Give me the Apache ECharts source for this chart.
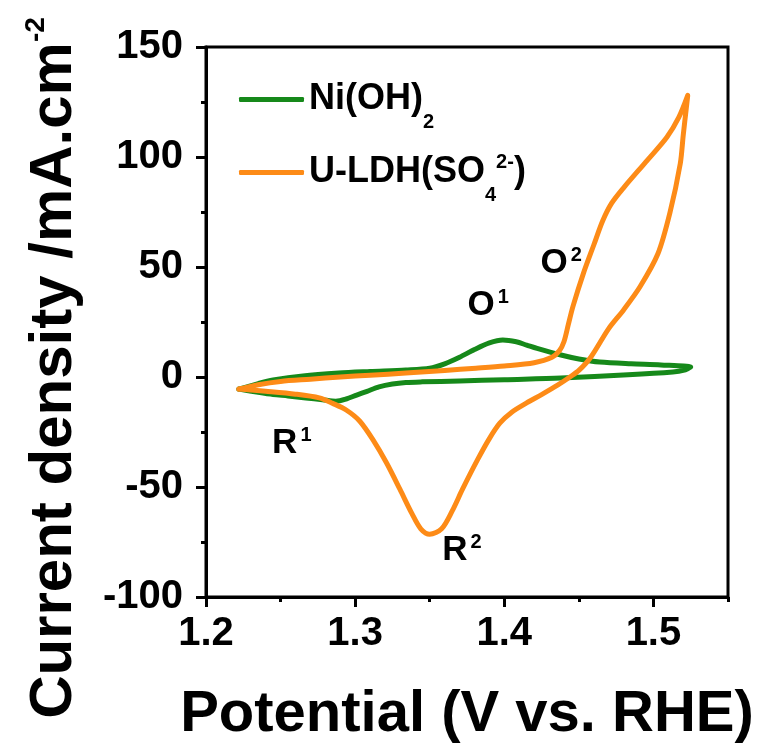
<!DOCTYPE html>
<html>
<head>
<meta charset="utf-8">
<script src="https://cdn.jsdelivr.net/npm/echarts@6/dist/echarts.min.js"></script>
<style>
html,body{margin:0;padding:0;background:#fff;}
#chart{width:765px;height:747px;}
</style>
</head>
<body>
<div id="chart"></div>
<script>
// ---- data (potential V vs RHE, current density mA/cm2) ----
const seriesNames = ['Ni(OH)2', 'U-LDH(SO42-)'];

const niOH2 = [
  [1.222,-5.5],[1.235,-3],[1.245,-1.4],[1.265,0.5],[1.289,1.8],[1.31,2.5],[1.334,3.2],
  [1.350,4],[1.360,6],[1.370,9],[1.380,12.5],[1.390,15.5],[1.399,16.8],[1.408,16],
  [1.415,14.5],[1.422,13],[1.438,10],[1.45,8.2],[1.464,6.8],[1.485,6],[1.505,5.5],[1.525,4.5],
  [1.520,3],[1.513,2.3],[1.483,1],[1.438,-0.5],[1.40,-1.2],[1.370,-1.8],[1.345,-2.2],
  [1.334,-2.5],[1.325,-3.2],[1.316,-4.5],[1.308,-6.5],[1.301,-8.2],[1.294,-10],[1.287,-11],
  [1.278,-10.3],[1.267,-9.5],[1.255,-8.6],[1.245,-8],[1.235,-7],[1.222,-5.5]
];

const uLDH = [
  [1.222,-5.5],[1.235,-3.5],[1.25,-2.0],[1.27,-1.0],[1.29,0],[1.31,0.8],[1.334,1.8],
  [1.36,3.0],[1.381,4.0],[1.40,5.0],[1.42,6.5],[1.432,9],[1.437,12],[1.440,16],
  [1.443,24],[1.446,32],[1.453,47],[1.460,60],[1.466,71],[1.472,79],[1.480,86],
  [1.496,98.6],[1.509,109],[1.517,118],[1.523,128],
  [1.522,122],[1.520,110],[1.518,97],[1.511,74.5],[1.503,56],[1.491,41],[1.480,30.5],
  [1.470,22],[1.458,9],[1.450,3],[1.444,0],[1.436,-3.6],[1.425,-8],[1.415,-11.8],
  [1.405,-16],[1.397,-21],[1.390,-28],[1.382,-37.7],[1.372,-51],[1.365,-61],[1.358,-69],
  [1.350,-71.5],[1.344,-69],[1.338,-62],[1.330,-51],[1.321,-39],[1.312,-28.6],[1.303,-20],
  [1.294,-15],[1.285,-12],[1.276,-9.5],[1.260,-7.8],[1.240,-6.5],[1.222,-5.5]
];

// peak annotations
const annoMain = ['O', 'O', 'R', 'R'];
const annoSup  = ['1', '2', '1', '2'];
const annoX    = [1.375, 1.424, 1.244, 1.358];
const annoY    = [32.7, 51.8, -30, -79];

const xTicks = [1.2, 1.3, 1.4, 1.5];
const yTicks = [-100, -50, 0, 50, 100, 150];

// ---- chart ----
const FONT = '"Liberation Sans", Arial, Helvetica, sans-serif';
const GREEN = '#16891a';
const ORANGE = '#fd8b17';

const chart = echarts.init(document.getElementById('chart'), null, {renderer: 'canvas'});

const tickLine = {color: '#000', width: 3};
const option = {
  animation: false,
  backgroundColor: '#fff',
  textStyle: {fontFamily: FONT, fontWeight: 'bold', color: '#000'},
  grid: {
    left: 206, right: 37, top: 47, bottom: 150,
    show: true, borderColor: '#000', borderWidth: 3,
    containLabel: false, outerBoundsMode: 'none'
  },
  legend: {
    orient: 'vertical', left: 239, top: 67, padding: 0,
    itemWidth: 65, itemHeight: 5, itemGap: 8,
    icon: 'roundRect',
    data: seriesNames,
    formatter: function (name) {
      if (name === seriesNames[0]) return '{a|Ni(OH)}{sub|2}';
      return '{a|U-LDH(SO}{sub|4}{sup|2-}{a|)}';
    },
    textStyle: {
      fontFamily: FONT, fontWeight: 'bold', color: '#000',
      rich: {
        a: {fontFamily: FONT, fontWeight: 'bold', fontSize: 36, lineHeight: 40, color: '#000'},
        sub: {fontFamily: FONT, fontWeight: 'bold', fontSize: 20, lineHeight: 20, padding: [45, 0, 0, 0], color: '#000'},
        sup: {fontFamily: FONT, fontWeight: 'bold', fontSize: 20, lineHeight: 16, verticalAlign: 'top', color: '#000'}
      }
    }
  },
  xAxis: [
    {
      type: 'value', min: 1.2, max: 1.55, interval: 0.1, position: 'bottom',
      axisLine: {show: true, onZero: false, lineStyle: tickLine},
      axisTick: {show: true, length: 10, lineStyle: tickLine},
      axisLabel: {
        margin: 17, fontSize: 40, fontWeight: 'bold', fontFamily: FONT, color: '#000',
        showMaxLabel: false,
        formatter: function (v) {
          const hit = xTicks.find(t => Math.abs(t - v) < 1e-6);
          return hit === undefined ? '' : hit.toFixed(1);
        }
      },
      splitLine: {show: false},
      name: 'Potential (V vs. RHE)', nameLocation: 'middle', nameGap: 89,
      nameTextStyle: {fontSize: 58, fontWeight: 'bold', fontFamily: FONT, color: '#000'}
    },
    {
      type: 'value', min: 1.2, max: 1.55, interval: 0.05, position: 'bottom',
      axisLine: {show: false, onZero: false},
      axisTick: {show: true, length: 5, lineStyle: tickLine},
      axisLabel: {show: false},
      splitLine: {show: false}
    }
  ],
  yAxis: {
    type: 'value', min: yTicks[0], max: yTicks[yTicks.length - 1], interval: 50,
    axisLine: {show: true, onZero: false, lineStyle: tickLine},
    axisTick: {show: true, length: 10, lineStyle: tickLine},
    minorTick: {show: true, splitNumber: 2, length: 5, lineStyle: tickLine},
    axisLabel: {margin: 23, fontSize: 40, fontWeight: 'bold', fontFamily: FONT, color: '#000'},
    splitLine: {show: false},
    name: '{a|Current density /mA.cm}{sup|-2}',
    nameLocation: 'middle', nameGap: 120, nameRotate: 90,
    nameTextStyle: {
      fontFamily: FONT, fontWeight: 'bold', color: '#000',
      padding: [0, 92, 0, 0],
      rich: {
        a: {fontFamily: FONT, fontWeight: 'bold', fontSize: 60, lineHeight: 64, color: '#000'},
        sup: {fontFamily: FONT, fontWeight: 'bold', fontSize: 28, lineHeight: 20, verticalAlign: 'top', color: '#000'}
      }
    }
  },
  series: [
    {
      name: seriesNames[0], type: 'line', data: niOH2, xAxisIndex: 0,
      symbol: 'none', smooth: 0.3,
      lineStyle: {color: GREEN, width: 5, cap: 'round', join: 'round'},
      itemStyle: {color: GREEN}
    },
    {
      name: seriesNames[1], type: 'line', data: uLDH, xAxisIndex: 0,
      symbol: 'none', smooth: 0.3,
      lineStyle: {color: ORANGE, width: 5, cap: 'round', join: 'round'},
      itemStyle: {color: ORANGE}
    },
    {
      name: 'peaks', type: 'scatter', xAxisIndex: 0,
      data: annoX.map((x, i) => [x, annoY[i]]),
      symbolSize: 1, itemStyle: {color: 'rgba(0,0,0,0)', opacity: 1}, silent: true,
      label: {
        show: true, position: 'right', distance: 0, color: '#000', opacity: 1,
        formatter: p => '{b|' + annoMain[p.dataIndex] + '}{s|' + annoSup[p.dataIndex] + '}',
        rich: {
          b: {fontFamily: FONT, fontWeight: 'bold', fontSize: 35, lineHeight: 36, color: '#000'},
          s: {fontFamily: FONT, fontWeight: 'bold', fontSize: 20, lineHeight: 10, verticalAlign: 'top', padding: [0, 0, 0, 3], color: '#000'}
        }
      }
    }
  ]
};
chart.setOption(option);
</script>
</body>
</html>
